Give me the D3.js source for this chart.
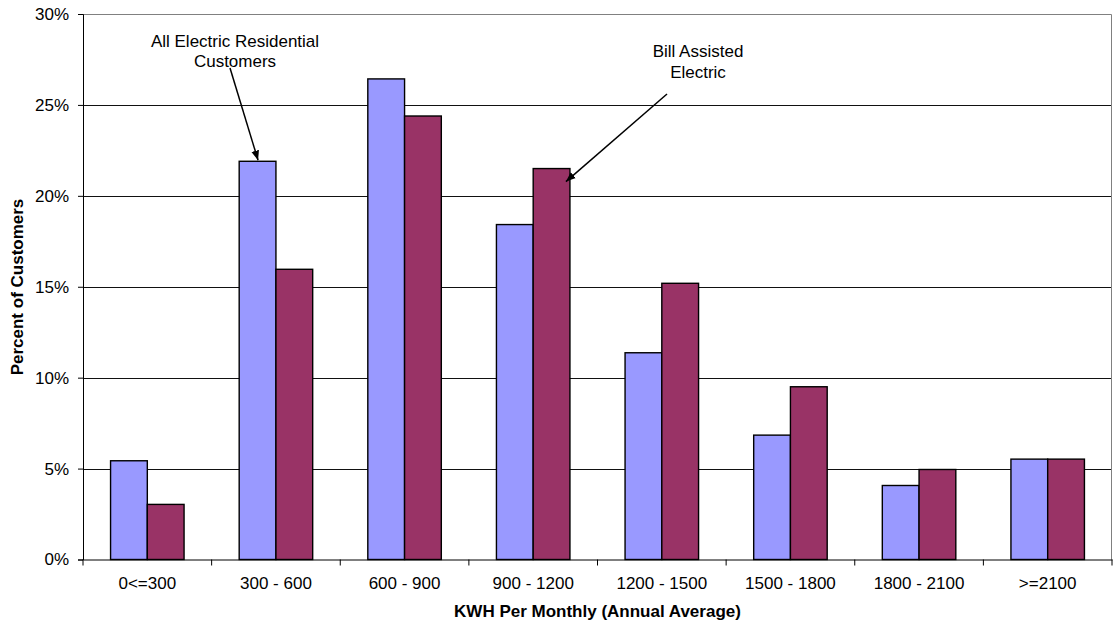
<!DOCTYPE html>
<html><head><meta charset="utf-8">
<script src="https://cdn.jsdelivr.net/npm/d3@7"></script>
<style>body{margin:0;background:#fff;}svg{display:block;font-family:Arial,"Liberation Sans",sans-serif;}</style>
</head><body><svg id="c" width="1113" height="627"></svg>
<script>
const categories = ["0<=300","300 - 600","600 - 900","900 - 1200","1200 - 1500","1500 - 1800","1800 - 2100",">=2100"];
const seriesNames = ["All Electric Residential Customers","Bill Assisted Electric"];
const allElectric = [5.43, 21.9, 26.43, 18.42, 11.37, 6.84, 4.07, 5.52];
const billAssisted = [3.03, 15.96, 24.39, 21.5, 15.19, 9.5, 4.95, 5.52];
const yTicks = [0,5,10,15,20,25,30];
const colors = ["#9999FF","#993366"];

const FONT = "Arial, Liberation Sans, sans-serif";
const svg = d3.select("#c");
const L = 83, R = 1112, T = 14, B = 559.5;
const x = d3.scaleBand().domain(categories).range([L,R]).paddingInner(0).paddingOuter(0);
const inner = d3.scaleBand().domain([0,1]).range([0, x.bandwidth()]).paddingInner(0).paddingOuter(0.75);
const y = d3.scaleLinear().domain([0,30]).range([B,T]);

// gridlines
svg.append("g").selectAll("line").data(yTicks.filter(d=>d>0&&d<30)).join("line")
  .attr("x1",L).attr("x2",R).attr("y1",d=>Math.round(y(d))+0.5).attr("y2",d=>Math.round(y(d))+0.5)
  .attr("stroke","#111").attr("stroke-width",1);
// plot border (top, right)
svg.append("path").attr("d",`M${L},${Math.round(T)+0.5}H${R-0.5}V${B}`).attr("fill","none").attr("stroke","#808080");

const data = [allElectric, billAssisted];
const g = svg.append("g");
data.forEach((vals,si)=>{
  g.selectAll(null).data(vals).join("rect")
    .attr("x",(d,i)=>x(categories[i])+inner(si))
    .attr("y",d=>y(d))
    .attr("width",inner.bandwidth())
    .attr("height",d=>B-y(d))
    .attr("fill",colors[si]).attr("stroke","#000").attr("stroke-width",1.4);
});

// y axis
const ya = svg.append("g").attr("transform",`translate(${L},0)`)
  .call(d3.axisLeft(y).tickValues(yTicks).tickFormat(d=>d+"%").tickSize(5).tickPadding(9));
ya.select(".domain").attr("stroke","#000");
ya.selectAll(".tick line").attr("stroke","#000");
ya.selectAll("text").attr("font-size",17).attr("fill","#000").attr("font-family",FONT);

// x axis
const xa = svg.append("g").attr("transform",`translate(0,${B})`)
  .call(d3.axisBottom(x).tickSize(0).tickPadding(17));
xa.select(".domain").attr("stroke","#000");
xa.selectAll("text").attr("font-size",17).attr("fill","#000").attr("font-family",FONT);
svg.append("g").selectAll("line").data(d3.range(categories.length+1)).join("line")
  .attr("x1",i=>L+i*x.step()).attr("x2",i=>L+i*x.step()).attr("y1",B).attr("y2",B+6).attr("stroke","#000");

// axis titles
svg.append("text").attr("x",(L+R)/2).attr("y",617).attr("text-anchor","middle")
  .attr("font-size",17).attr("font-weight","bold").text("KWH Per Monthly (Annual Average)");
svg.append("text").attr("transform","translate(23,287) rotate(-90)").attr("text-anchor","middle")
  .attr("font-size",17).attr("font-weight","bold").text("Percent of Customers");

// annotations
svg.append("defs").append("marker").attr("id","ah").attr("viewBox","0 0 10 10").attr("refX",10).attr("refY",5)
  .attr("markerWidth",6.5).attr("markerHeight",6.5).attr("orient","auto")
  .append("path").attr("d","M0,1L10,5L0,9z").attr("fill","#000");
const a1 = svg.append("text").attr("text-anchor","middle").attr("font-size",17);
a1.append("tspan").attr("x",235).attr("y",47).text("All Electric Residential");
a1.append("tspan").attr("x",235).attr("y",67).text("Customers");
const a2 = svg.append("text").attr("text-anchor","middle").attr("font-size",17);
a2.append("tspan").attr("x",698).attr("y",57).text("Bill Assisted");
a2.append("tspan").attr("x",698).attr("y",78).text("Electric");
svg.append("line").attr("x1",230).attr("y1",68).attr("x2",x(categories[1])+inner(0)+inner.bandwidth()/2+0.5).attr("y2",y(allElectric[1])-1)
  .attr("stroke","#000").attr("stroke-width",1.5).attr("marker-end","url(#ah)");
svg.append("line").attr("x1",667).attr("y1",94).attr("x2",x(categories[3])+inner(1)+inner.bandwidth()-4).attr("y2",y(billAssisted[3])+13)
  .attr("stroke","#000").attr("stroke-width",1.5).attr("marker-end","url(#ah)");
</script></body></html>
